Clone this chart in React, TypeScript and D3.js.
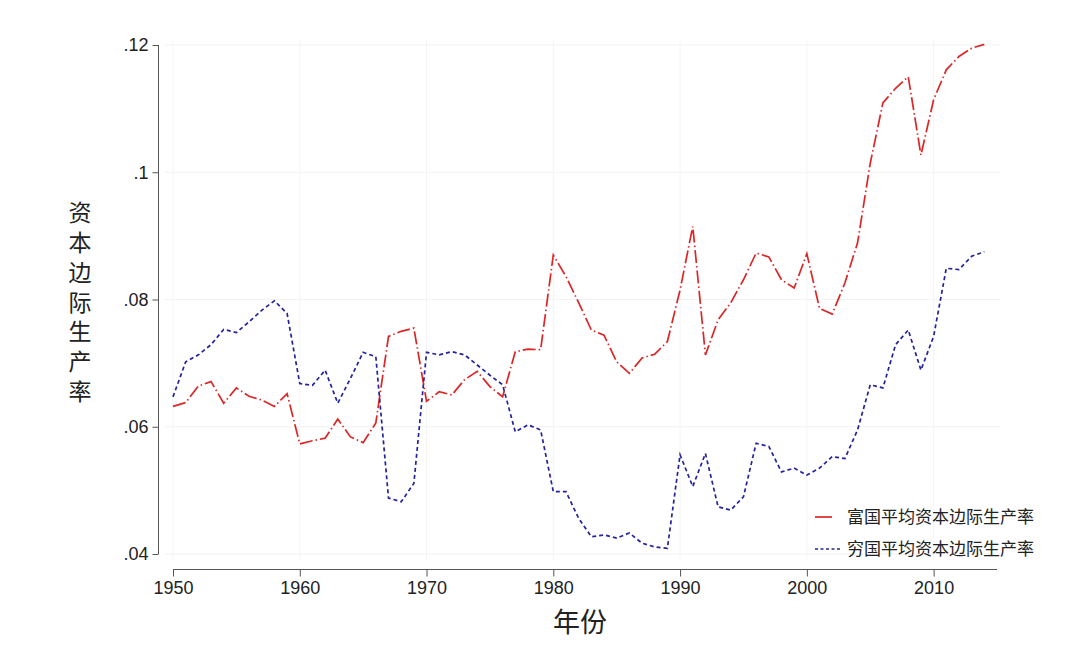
import { useEffect, useRef } from 'react';
import * as d3 from 'd3';

// years 1950 - 2014
const years: number[] = d3.range(1950, 2015);

// 富国平均资本边际生产率
const richMpk: number[] = [
  0.0632, 0.0638, 0.0664, 0.0671, 0.0637, 0.0661, 0.0648, 0.0642, 0.0632, 0.0652,
  0.0573, 0.0578, 0.0582, 0.0612, 0.0584, 0.0575, 0.0606, 0.0742, 0.075, 0.0755,
  0.064, 0.0655, 0.065, 0.0674, 0.0687, 0.0663, 0.0647, 0.0718, 0.0722, 0.0721,
  0.087, 0.0836, 0.0795, 0.0752, 0.0744, 0.0702, 0.0684, 0.0708, 0.0714, 0.0734,
  0.0815, 0.0915, 0.0713, 0.0768, 0.0795, 0.0831, 0.0873, 0.0867, 0.0831, 0.0818,
  0.0872, 0.0786, 0.0777, 0.0826, 0.0889, 0.1014, 0.1109, 0.1132, 0.115, 0.1027,
  0.1114, 0.1161, 0.1182, 0.1195, 0.1201,
];

// 穷国平均资本边际生产率
const poorMpk: number[] = [
  0.0647, 0.0702, 0.0713, 0.0729, 0.0753, 0.0748, 0.0765, 0.0783, 0.0798, 0.0778,
  0.0668, 0.0665, 0.0689, 0.0637, 0.0676, 0.0717, 0.071, 0.0488, 0.0482, 0.0511,
  0.0717, 0.0713, 0.0718, 0.0713, 0.0697, 0.0681, 0.0666, 0.0592, 0.0603, 0.0595,
  0.0498, 0.0498, 0.0456, 0.0427, 0.043, 0.0425, 0.0433, 0.0417, 0.0411, 0.0409,
  0.0556, 0.0506, 0.0558, 0.0474, 0.0469, 0.049, 0.0574, 0.0569, 0.0529, 0.0535,
  0.0524, 0.0535, 0.0553, 0.055, 0.0595, 0.0666, 0.0661, 0.0729, 0.0752, 0.0689,
  0.0742, 0.0849, 0.0847, 0.0868, 0.0875,
];

const xTicks: number[] = [1950, 1960, 1970, 1980, 1990, 2000, 2010];
const yTicks: number[] = [0.04, 0.06, 0.08, 0.1, 0.12];
const yTickLabels: string[] = ['.04', '.06', '.08', '.1', '.12'];

const seriesNames: string[] = ['富国平均资本边际生产率', '穷国平均资本边际生产率'];
const seriesColors: string[] = ['#dc2626', '#23239e'];
const seriesDash: string[] = ['13,3,1.5,3', '4,3'];

const yTitle = '资本边际生产率';
const xTitle = '年份';

const App = () => {
  const svgRef = useRef<SVGSVGElement>(null);

  useEffect(() => {
    if (!svgRef.current) return;
    d3.select(svgRef.current).selectAll('*').remove();

    const width = 1070;
    const height = 657;
    const svg = d3.select(svgRef.current).attr('width', width).attr('height', height);

    svg.append('rect').attr('width', width).attr('height', height).attr('fill', '#fff');

    const xScale = d3.scaleLinear().domain([1950, 2015]).range([173, 997]);
    const yScale = d3.scaleLinear().domain([0.04, 0.12]).range([554, 45]);

    // faint grid
    svg
      .selectAll('.hgrid')
      .data(yTicks)
      .enter()
      .append('line')
      .attr('x1', 165)
      .attr('x2', 1000)
      .attr('y1', (d) => yScale(d))
      .attr('y2', (d) => yScale(d))
      .attr('stroke', '#f2f2f2')
      .attr('stroke-width', 1);

    svg
      .selectAll('.vgrid')
      .data(xTicks)
      .enter()
      .append('line')
      .attr('x1', (d) => xScale(d))
      .attr('x2', (d) => xScale(d))
      .attr('y1', 40)
      .attr('y2', 560)
      .attr('stroke', '#f4f4f4')
      .attr('stroke-width', 1);

    // y axis
    const yAxis = d3
      .axisLeft(yScale)
      .tickValues(yTicks)
      .tickSize(6)
      .tickPadding(4)
      .tickFormat((_d, i) => yTickLabels[i]);
    svg
      .append('g')
      .attr('transform', 'translate(158.5,0)')
      .call(yAxis)
      .call((g) => g.select('.domain').attr('stroke', '#555').attr('d', `M0,${yScale(0.04)}V${yScale(0.12)}`))
      .call((g) => g.selectAll('.tick line').attr('stroke', '#555'))
      .call((g) =>
        g
          .selectAll('.tick text')
          .attr('font-family', 'Liberation Sans, Arial, sans-serif')
          .attr('font-size', 18)
          .attr('fill', '#222')
      );

    // x axis
    const xAxis = d3
      .axisBottom(xScale)
      .tickValues(xTicks)
      .tickSize(7)
      .tickPadding(5)
      .tickFormat((d) => String(d));
    svg
      .append('g')
      .attr('transform', 'translate(0,569.5)')
      .call(xAxis)
      .call((g) => g.select('.domain').attr('stroke', '#555').attr('d', `M${xScale(1950)},0H${xScale(2015)}`))
      .call((g) => g.selectAll('.tick line').attr('stroke', '#555'))
      .call((g) =>
        g
          .selectAll('.tick text')
          .attr('font-family', 'Liberation Sans, Arial, sans-serif')
          .attr('font-size', 18)
          .attr('fill', '#222')
      );

    // lines
    const seriesValues = [richMpk, poorMpk];
    const line = d3
      .line<number>()
      .x((_d, i) => xScale(years[i]))
      .y((d) => yScale(d));

    seriesValues.forEach((vals, s) => {
      svg
        .append('path')
        .attr('d', line(vals))
        .attr('fill', 'none')
        .attr('stroke', seriesColors[s])
        .attr('stroke-width', 1.7)
        .attr('stroke-dasharray', seriesDash[s]);
    });

    // y title, written vertically
    svg
      .append('text')
      .attr('x', 80)
      .attr('y', 201)
      .attr('writing-mode', 'vertical-rl')
      .style('text-orientation', 'upright')
      .attr('letter-spacing', 6.8)
      .attr('font-family', 'Noto Sans CJK SC')
      .attr('font-size', 23)
      .attr('fill', '#222')
      .text(yTitle);

    // x title
    svg
      .append('text')
      .attr('x', 580)
      .attr('y', 632)
      .attr('text-anchor', 'middle')
      .attr('font-family', 'Noto Sans CJK SC')
      .attr('font-size', 27)
      .attr('fill', '#222')
      .text(xTitle);

    // legend
    const legend = svg.append('g');
    seriesNames.forEach((name, s) => {
      const ly = 517 + s * 32;
      legend
        .append('line')
        .attr('x1', 815)
        .attr('x2', s === 0 ? 832 : 840)
        .attr('y1', ly)
        .attr('y2', ly)
        .attr('stroke', seriesColors[s])
        .attr('stroke-width', 1.7)
        .attr('stroke-dasharray', s === 0 ? null : '3,2.5');
      legend
        .append('text')
        .attr('x', 847)
        .attr('y', ly)
        .attr('dy', '0.36em')
        .attr('font-family', 'Noto Sans CJK SC')
        .attr('font-size', 17)
        .attr('fill', '#222')
        .text(name);
    });
  }, []);

  return (
    <div style={{ position: 'absolute', left: 0, top: 0 }}>
      <svg ref={svgRef} style={{ display: 'block' }}></svg>
    </div>
  );
};

export default App;
